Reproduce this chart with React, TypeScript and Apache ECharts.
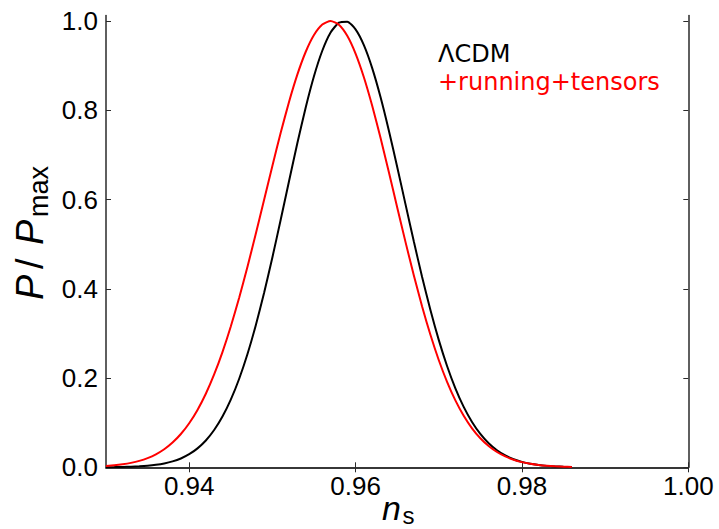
import React, { useEffect, useRef } from "react";
import * as echarts from "echarts";

const NS = [
  0.930, 0.931, 0.932, 0.933, 0.934, 0.935, 0.936, 0.937, 0.938, 0.939,
  0.940, 0.941, 0.942, 0.943, 0.944, 0.945, 0.946, 0.947, 0.948, 0.949,
  0.950, 0.951, 0.952, 0.953, 0.954, 0.955, 0.956, 0.957, 0.958, 0.959,
  0.960, 0.961, 0.962, 0.963, 0.964, 0.965, 0.966, 0.967, 0.968, 0.969,
  0.970, 0.971, 0.972, 0.973, 0.974, 0.975, 0.976, 0.977, 0.978, 0.979,
  0.980, 0.981, 0.982, 0.983, 0.984, 0.985, 0.986,
];

const P_LCDM = [
  0.0002, 0.0004, 0.0007, 0.0013, 0.0021, 0.0034, 0.0055, 0.0086, 0.0132, 0.0198,
  0.0293, 0.0424, 0.0601, 0.0835, 0.1136, 0.1515, 0.1979, 0.2533, 0.3179, 0.3906,
  0.4702, 0.5547, 0.6411, 0.7261, 0.8058, 0.8762, 0.9333, 0.9742, 0.9963, 0.9985,
  0.9813, 0.9459, 0.8945, 0.8297, 0.7548, 0.6736, 0.5897, 0.5063, 0.4265, 0.3523,
  0.2855, 0.2270, 0.1769, 0.1353, 0.1015, 0.0747, 0.0539, 0.0382, 0.0265, 0.0181,
  0.0121, 0.0079, 0.0051, 0.0032, 0.0020, 0.0012, 0.0007,
];

const P_RUN = [
  0.0029, 0.0044, 0.0067, 0.0099, 0.0144, 0.0207, 0.0292, 0.0405, 0.0555, 0.0746,
  0.0988, 0.1286, 0.1648, 0.2080, 0.2582, 0.3154, 0.3794, 0.4489, 0.5226, 0.5987,
  0.6753, 0.7495, 0.8185, 0.8797, 0.9305, 0.9685, 0.9920, 1.0000, 0.9916, 0.9668,
  0.9269, 0.8738, 0.8099, 0.7382, 0.6615, 0.5829, 0.5051, 0.4303, 0.3604, 0.2969,
  0.2404, 0.1915, 0.1499, 0.1154, 0.0874, 0.0651, 0.0476, 0.0343, 0.0243, 0.0169,
  0.0116, 0.0078, 0.0051, 0.0033, 0.0021, 0.0013, 0.0008,
];

const X_TICKS = [0.94, 0.96, 0.98, 1.0];
const Y_TICKS = [0.0, 0.2, 0.4, 0.6, 0.8, 1.0];
const SERIES_NAMES = ["ΛCDM", "+running+tensors"];
const SERIES_COLORS = ["#000000", "#ff0000"];

const FONT = "Liberation Sans";
const LEGEND_FONT = "DejaVu Sans";
const AXIS_COLOR = "#2a2a2a";

export default function App() {
  const ref = useRef<HTMLDivElement>(null);

  useEffect(() => {
    if (!ref.current) return;
    const chart = echarts.init(ref.current, undefined, { renderer: "svg" });

    const axisLine = { show: true, lineStyle: { color: AXIS_COLOR, width: 1.5 } };
    const tick = (vals: number[]) => ({
      show: true,
      inside: true,
      length: 5,
      customValues: vals,
      lineStyle: { color: AXIS_COLOR, width: 1 },
    });

    const option: any = {
      animation: false,
      backgroundColor: "#ffffff",
      grid: { left: 106, right: 30.7, top: 15.5, bottom: 61.7 },
      xAxis: [
        {
          type: "value",
          min: 0.93,
          max: 1.0,
          position: "bottom",
          axisLine,
          axisTick: tick(X_TICKS),
          splitLine: { show: false },
          axisLabel: {
            show: true,
            customValues: X_TICKS,
            margin: 6,
            color: "#000",
            fontFamily: FONT,
            fontSize: 26,
            formatter: (v: number) => v.toFixed(2),
          },
        },
        {
          type: "value",
          min: 0.93,
          max: 1.0,
          position: "top",
          axisLine,
          axisTick: tick(X_TICKS),
          splitLine: { show: false },
          axisLabel: { show: false },
        },
      ],
      yAxis: [
        {
          type: "value",
          min: 0,
          max: 1.0123,
          position: "left",
          axisLine,
          axisTick: tick(Y_TICKS),
          splitLine: { show: false },
          axisLabel: {
            show: true,
            customValues: Y_TICKS,
            margin: 8,
            color: "#000",
            fontFamily: FONT,
            fontSize: 26,
            formatter: (v: number) => v.toFixed(1),
          },
        },
        {
          type: "value",
          min: 0,
          max: 1.0123,
          position: "right",
          axisLine,
          axisTick: tick(Y_TICKS),
          splitLine: { show: false },
          axisLabel: { show: false },
        },
      ],
      series: [
        {
          name: SERIES_NAMES[0],
          type: "line",
          data: NS.map((x, i) => [x, P_LCDM[i]]),
          showSymbol: false,
          smooth: 0.2,
          lineStyle: { color: SERIES_COLORS[0], width: 2 },
          itemStyle: { color: SERIES_COLORS[0] },
          z: 2,
        },
        {
          name: SERIES_NAMES[1],
          type: "line",
          data: NS.map((x, i) => [x, P_RUN[i]]),
          showSymbol: false,
          smooth: 0.2,
          lineStyle: { color: SERIES_COLORS[1], width: 2 },
          itemStyle: { color: SERIES_COLORS[1] },
          z: 3,
        },
      ],
      graphic: [
        {
          type: "text",
          x: 438,
          y: 41.7,
          z: 10,
          style: {
            text: `{a|${SERIES_NAMES[0]}}\n{b|${SERIES_NAMES[1]}}`,
            align: "left",
            verticalAlign: "top",
            fontFamily: LEGEND_FONT,
            fontSize: 24,
            rich: {
              a: { fill: SERIES_COLORS[0], fontFamily: LEGEND_FONT, fontSize: 24, lineHeight: 24 },
              b: { fill: SERIES_COLORS[1], fontFamily: LEGEND_FONT, fontSize: 24, lineHeight: 32 },
            },
          },
        },
        {
          type: "group",
          x: 29.5,
          y: 300,
          rotation: Math.PI / 2,
          children: [
            {
              type: "text",
              x: 0,
              y: 0,
              style: {
                text: "P",
                fontFamily: FONT,
                fontStyle: "italic",
                fontSize: 38,
                fill: "#000",
                align: "left",
                verticalAlign: "middle",
              },
            },
            {
              type: "text",
              x: 31,
              y: 0,
              style: {
                text: "/",
                fontFamily: FONT,
                fontSize: 38,
                fill: "#000",
                align: "left",
                verticalAlign: "middle",
              },
            },
            {
              type: "text",
              x: 55,
              y: 0,
              style: {
                text: "P",
                fontFamily: FONT,
                fontStyle: "italic",
                fontSize: 38,
                fill: "#000",
                align: "left",
                verticalAlign: "middle",
              },
            },
            {
              type: "text",
              x: 83,
              y: 9.6,
              style: {
                text: "max",
                fontFamily: FONT,
                fontSize: 27,
                fill: "#000",
                align: "left",
                verticalAlign: "middle",
              },
            },
          ],
        },
        {
          type: "text",
          x: 382,
          y: 508.3,
          style: {
            text: "n",
            fontFamily: FONT,
            fontStyle: "italic",
            fontSize: 34,
            fill: "#000",
            align: "left",
            verticalAlign: "middle",
          },
        },
        {
          type: "text",
          x: 402.5,
          y: 515,
          style: {
            text: "s",
            fontFamily: FONT,
            fontSize: 24,
            fill: "#000",
            align: "left",
            verticalAlign: "middle",
          },
        },
      ],
    };

    chart.setOption(option);
    return () => chart.dispose();
  }, []);

  return (
    <div
      ref={ref}
      style={{ position: "absolute", left: 0, top: 0, width: 719, height: 529, background: "#fff" }}
    />
  );
}
